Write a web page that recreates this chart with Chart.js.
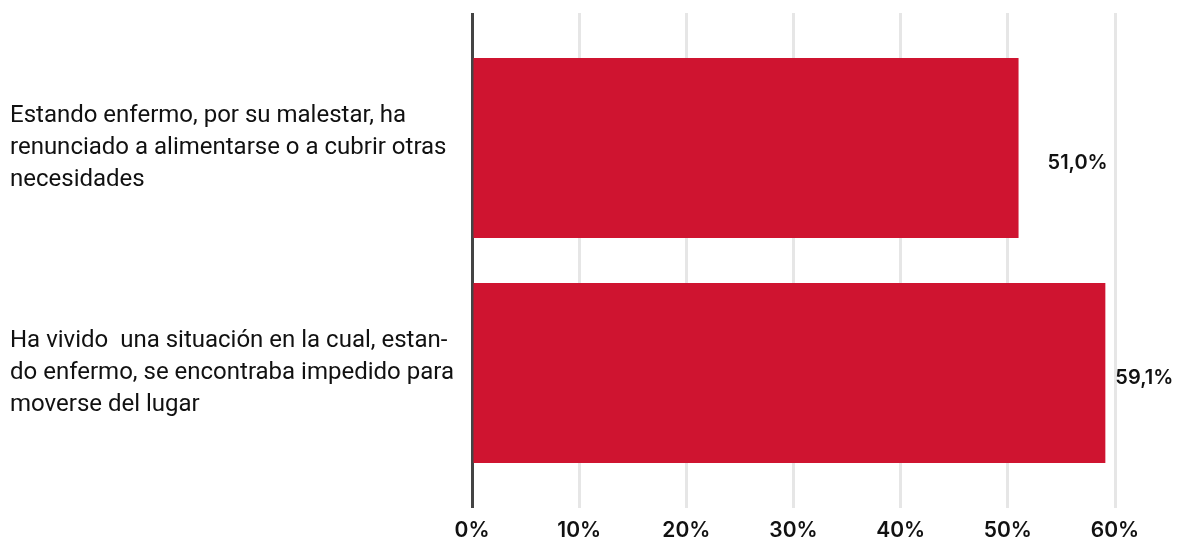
<!DOCTYPE html>
<html>
<head>
<meta charset="utf-8">
<script src="https://cdn.jsdelivr.net/npm/chart.js@4"></script>
<style>
   body { margin: 0; background: #fff; }
   #wrap { width: 1184px; height: 544px; }
</style>
</head>
<body>
<div id="wrap"><canvas id="chart__1"></canvas></div>
<script>
// DATA
const categorias = [
   ["Estando enfermo, por su malestar, ha", "renunciado a alimentarse o a cubrir otras", "necesidades"],
   ["Ha vivido  una situación en la cual, estan-", "do enfermo, se encontraba impedido para", "moverse del lugar"],
];
const porcentajes = [51.0, 59.1];
const ticksX = [0, 10, 20, 30, 40, 50, 60];

const rojo = "#cf1430";
const gris = "#e6e6e6";
const ejeCero = "#444";
const familia = "Inter, 'DejaVu Sans', sans-serif";

// color de la rejilla: la linea del 0% va oscura
const colorRejilla = (c) => (c.index === 0 ? ejeCero : gris);

// etiquetas de valor a la derecha de cada barra
const valoresPlugin = {
   id: "valores",
   afterDatasetsDraw(chart, args, opts) {
      const ctx = chart.ctx;
      const meta = chart.getDatasetMeta(0);
      ctx.save();
      ctx.fillStyle = "#111";
      ctx.font = `600 20px ${familia}`;
      ctx.textBaseline = "middle";
      ctx.textAlign = "left";
      meta.data.forEach((bar, i) => {
         const txt = porcentajes[i].toFixed(1).replace(".", ",") + "%";
         const d = opts.desplazar[i];
         ctx.fillText(txt, bar.x + d[0], bar.y + d[1]);
      });
      ctx.restore();
   },
};

var ctx1 = document.getElementById("chart__1").getContext("2d");
window.chart1 = new Chart(ctx1, {
   type: "bar",
   data: {
      labels: categorias,
      datasets: [
         {
            data: porcentajes,
            backgroundColor: rojo,
            borderWidth: 0,
            barPercentage: 0.8,
            categoryPercentage: 1,
         },
      ],
   },
   options: {
      indexAxis: "y",
      responsive: true,
      maintainAspectRatio: false,
      animation: false,
      layout: { padding: { top: 13, right: 69, left: 10, bottom: 0 } },
      plugins: {
         legend: { display: false },
         tooltip: { enabled: false },
         valores: { desplazar: [[29, 15], [10, 5]] },
      },
      scales: {
         x: {
            type: "linear",
            position: "bottom",
            min: 0,
            max: 60,
            afterBuildTicks: (scale) => {
               scale.ticks = ticksX.map((v) => ({ value: v }));
            },
            afterFit: (scale) => {
               scale.height = 58.5;
            },
            grid: { color: colorRejilla, lineWidth: 3, drawTicks: true, tickLength: 22.5 },
            border: { display: false },
            ticks: {
               padding: 10,
               color: "#111",
               font: { family: familia, size: 21, weight: "600" },
               callback: (v) => v + "%",
            },
         },
         // eje superior sin etiquetas: solo prolonga la rejilla hacia arriba
         x2: {
            type: "linear",
            position: "top",
            axis: "x",
            min: 0,
            max: 60,
            afterBuildTicks: (scale) => {
               scale.ticks = ticksX.map((v) => ({ value: v }));
            },
            grid: { color: colorRejilla, lineWidth: 3, drawOnChartArea: false, drawTicks: true, tickLength: 22.5 },
            border: { display: false },
            ticks: { display: false },
         },
         y: {
            type: "category",
            offset: true,
            afterFit: (scale) => {
               scale.width = 462;
               scale.paddingTop = 0;
               scale.paddingBottom = 0;
            },
            grid: { display: false },
            border: { display: false },
            ticks: {
               crossAlign: "far",
               color: "#111",
               font: { family: "'Roboto', sans-serif", size: 24, lineHeight: 1.32 },
            },
         },
      },
   },
   plugins: [valoresPlugin],
});
</script>
</body>
</html>
